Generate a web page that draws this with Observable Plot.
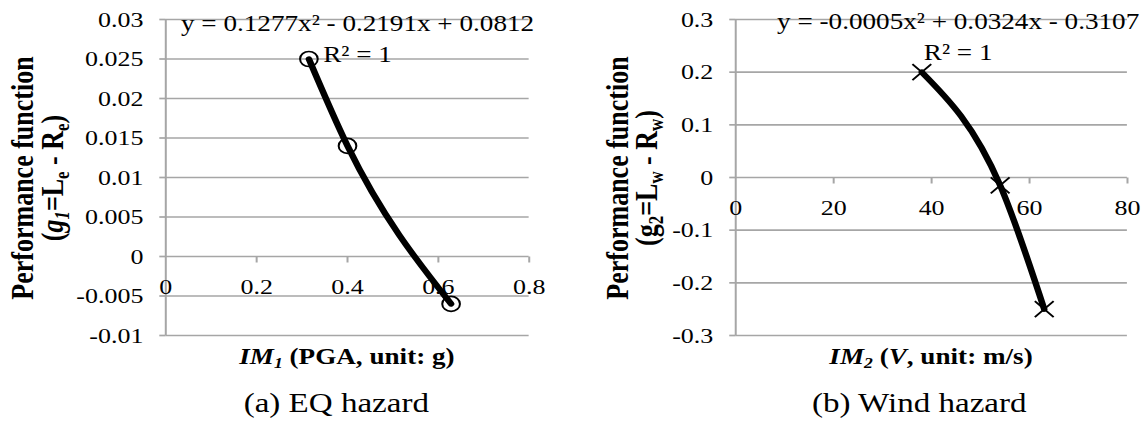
<!DOCTYPE html>
<html>
<head>
<meta charset="utf-8">
<script src="https://cdn.jsdelivr.net/npm/d3@7"></script>
<script src="https://cdn.jsdelivr.net/npm/@observablehq/plot@0.6"></script>
<style>
  html, body { margin: 0; padding: 0; background: #fff; overflow: hidden; }
  #stage { position: relative; width: 972px; height: 424px; transform: scaleX(1.18); transform-origin: 0 0;
           font-family: "Liberation Serif", "Times New Roman", serif; color: #000; }
  .abs { position: absolute; white-space: nowrap; }
  .ylab { font-weight: bold; font-size: 26px; line-height: 25px; text-align: center;
          transform: translate(-50%, -50%) rotate(-90deg); }
  .xlab { font-weight: bold; font-size: 23px; line-height: 1; transform: translateX(-50%); }
  .title { font-size: 28px; line-height: 1; transform: translateX(-50%); }
  .eqn { font-size: 23px; line-height: 31px; text-align: center; transform: translateX(-50%); }
  sub { font-size: 0.65em; line-height: 0; vertical-align: -0.3em; }
  svg { position: absolute; top: 0; }
</style>
</head>
<body>
<div id="stage"></div>
<script>
// ---- data ----
const eqX = [0.315, 0.4, 0.628];
const eqY = [0.025, 0.014, -0.006];
const windX = [38, 54, 63];
const windY = [0.2, -0.015, -0.25];

const eqXTicks = [0, 0.2, 0.4, 0.6, 0.8];
const eqYTicks = [-0.01, -0.005, 0, 0.005, 0.01, 0.015, 0.02, 0.025, 0.03];
const windXTicks = [0, 20, 40, 60, 80];
const windYTicks = [-0.3, -0.2, -0.1, 0, 0.1, 0.2, 0.3];

const eqEquation = ["y = 0.1277x² - 0.2191x + 0.0812", "R² = 1"];
const windEquation = ["y = -0.0005x² + 0.0324x - 0.3107", "R² = 1"];

// ---- build ----
const GRID = "#a6a6a6";
const tickDown = { draw(ctx) { ctx.moveTo(0, 0); ctx.lineTo(0, 6); } };

function panel({xs, ys, xTicks, yTicks, symbol, r, width, marginRight}) {
  const data = xs.map((x, i) => ({x, y: ys[i]}));
  return Plot.plot({
    width, height: 350,
    marginLeft: 140, marginRight, marginTop: 19, marginBottom: 15,
    style: {fontFamily: "'Liberation Serif', 'Times New Roman', serif", fontSize: "22px", color: "black", background: "transparent", overflow: "visible"},
    x: {domain: [xTicks[0], xTicks[xTicks.length - 1]], axis: null},
    y: {domain: [yTicks[0], yTicks[yTicks.length - 1]]},
    marks: [
      Plot.gridY(yTicks, {stroke: GRID, strokeOpacity: 1, strokeWidth: 1.7}),
      Plot.axisY(yTicks, {tickSize: 5, tickPadding: 14, tickFormat: d => String(d), stroke: GRID, strokeWidth: 1.7, fill: "black", label: null, fontSize: 22}),
      Plot.ruleX([xTicks[0]], {stroke: GRID, strokeWidth: 1.7}),
      Plot.dot(xTicks.slice(1), {x: d => d, y: () => 0, symbol: tickDown, r: 3, stroke: GRID, strokeWidth: 1.7, fill: "none"}),
      Plot.text(xTicks, {x: d => d, y: () => 0, text: d => String(d), dy: 30, fontSize: 22, fill: "black"}),
      Plot.line(data, {x: "x", y: "y", curve: "monotone-x", stroke: "black", strokeWidth: 5.5}),
      Plot.dot(data, {x: "x", y: "y", symbol, r, stroke: "black", strokeWidth: 1.7, fill: "none"})
    ]
  });
}

const stage = document.getElementById("stage");

const left = panel({xs: eqX, ys: eqY, xTicks: eqXTicks, yTicks: eqYTicks, symbol: "circle", r: 7.5, width: 480, marginRight: 32});
left.style.left = "0px";
stage.appendChild(left);

const right = panel({xs: windX, ys: windY, xTicks: windXTicks, yTicks: windYTicks, symbol: "times", r: 7.3, width: 489, marginRight: 17});
right.style.left = "483px";
stage.appendChild(right);

function add(cls, html, css) {
  const d = document.createElement("div");
  d.className = "abs " + cls;
  d.innerHTML = html;
  Object.assign(d.style, css);
  stage.appendChild(d);
}

add("eqn", eqEquation.join("<br>"), {left: "303px", top: "7.5px"});
add("eqn", windEquation.join("<br>"), {left: "812px", top: "6px"});

add("ylab", "Performance function<br>(<i>g</i><sub><i>1</i></sub>=L<sub>e</sub> - R<sub>e</sub>)", {left: "32px", top: "178px"});
add("ylab", "Performance function<br>(g<sub>2</sub>=L<sub>w</sub> - R<sub>w</sub>)", {left: "536px", top: "178px"});

add("xlab", "<i>IM</i><sub><i>1</i></sub> (PGA, unit: g)", {left: "294px", top: "345px"});
add("xlab", "<i>IM</i><sub><i>2</i></sub> (<i>V</i>, unit: m/s)", {left: "789px", top: "345px"});

add("title", "(a) EQ hazard", {left: "285px", top: "389px"});
add("title", "(b) Wind hazard", {left: "779px", top: "389px"});
</script>
</body>
</html>
